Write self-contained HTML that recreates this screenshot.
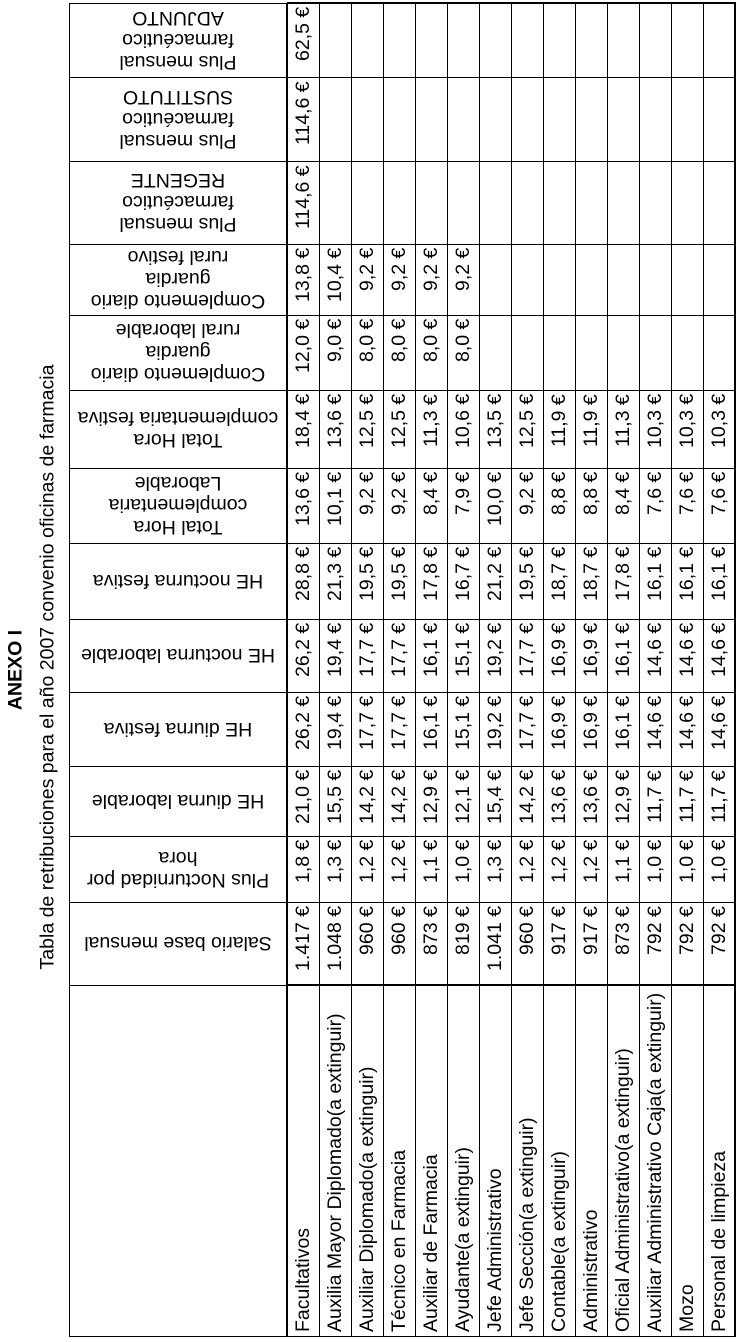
<!DOCTYPE html>
<html><head><meta charset="utf-8">
<style>
body{margin:0;background:#fff;}
#p{position:relative;width:746px;height:1342px;overflow:hidden;font-family:"Liberation Sans",sans-serif;font-size:19.5px;color:#000;}
.l{position:absolute;background:#000;}
.r{position:absolute;top:0;width:32px;height:1342px;}
.r span{position:absolute;left:0;width:32px;line-height:32px;writing-mode:vertical-rl;transform:rotate(180deg);text-align:end;box-sizing:border-box;white-space:nowrap;}
.r span.lb{text-align:start;padding-top:4px;}
.r span:not(.lb){padding-bottom:4px;}
.c0{top:985px;height:351px}
.c1{top:902px;height:83px}
.c2{top:836px;height:66px}
.c3{top:766px;height:70px}
.c4{top:692px;height:74px}
.c5{top:619px;height:73px}
.c6{top:543px;height:76px}
.c7{top:468px;height:75px}
.c8{top:390px;height:78px}
.c9{top:315px;height:75px}
.c10{top:244px;height:71px}
.c11{top:161px;height:83px}
.c12{top:77px;height:84px}
.c13{top:3px;height:74px}
.h{position:absolute;left:69px;width:218px;display:flex;align-items:center;justify-content:center;text-align:center;transform:rotate(180deg);line-height:22px;}
.t{position:absolute;white-space:nowrap;transform:translate(-50%,-50%) rotate(-90deg);}
</style></head><body><div id="p">
<div class="t" style="left:16px;top:670px;font-weight:bold;font-size:19.5px;">ANEXO I</div>
<div class="t" style="left:48px;top:667px;font-size:19.5px;">Tabla de retribuciones para el año 2007 convenio oficinas de farmacia</div>

<div class="h c1">Salario base mensual</div>
<div class="h c2">Plus Nocturnidad por<br>hora</div>
<div class="h c3">HE diurna laborable</div>
<div class="h c4">HE diurna festiva</div>
<div class="h c5">HE nocturna laborable</div>
<div class="h c6">HE nocturna festiva</div>
<div class="h c7">Total Hora<br>complementaria<br>Laborable</div>
<div class="h c8">Total Hora<br>complementaria festiva</div>
<div class="h c9">Complemento diario<br>guardia<br>rural laborable</div>
<div class="h c10">Complemento diario<br>guardia<br>rural festivo</div>
<div class="h c11">Plus mensual<br>farmacéutico<br>REGENTE</div>
<div class="h c12">Plus mensual<br>farmacéutico<br>SUSTITUTO</div>
<div class="h c13">Plus mensual<br>farmacéutico<br>ADJUNTO</div>

<div class="r" style="left:287px"><span class="lb c0">Facultativos</span><span class="c1">1.417 €</span><span class="c2">1,8 €</span><span class="c3">21,0 €</span><span class="c4">26,2 €</span><span class="c5">26,2 €</span><span class="c6">28,8 €</span><span class="c7">13,6 €</span><span class="c8">18,4 €</span><span class="c9">12,0 €</span><span class="c10">13,8 €</span><span class="c11">114,6 €</span><span class="c12">114,6 €</span><span class="c13">62,5 €</span></div>
<div class="r" style="left:319px"><span class="lb c0">Auxilia Mayor Diplomado(a extinguir)</span><span class="c1">1.048 €</span><span class="c2">1,3 €</span><span class="c3">15,5 €</span><span class="c4">19,4 €</span><span class="c5">19,4 €</span><span class="c6">21,3 €</span><span class="c7">10,1 €</span><span class="c8">13,6 €</span><span class="c9">9,0 €</span><span class="c10">10,4 €</span></div>
<div class="r" style="left:351px"><span class="lb c0">Auxiliar Diplomado(a extinguir)</span><span class="c1">960 €</span><span class="c2">1,2 €</span><span class="c3">14,2 €</span><span class="c4">17,7 €</span><span class="c5">17,7 €</span><span class="c6">19,5 €</span><span class="c7">9,2 €</span><span class="c8">12,5 €</span><span class="c9">8,0 €</span><span class="c10">9,2 €</span></div>
<div class="r" style="left:383px"><span class="lb c0">Técnico en Farmacia</span><span class="c1">960 €</span><span class="c2">1,2 €</span><span class="c3">14,2 €</span><span class="c4">17,7 €</span><span class="c5">17,7 €</span><span class="c6">19,5 €</span><span class="c7">9,2 €</span><span class="c8">12,5 €</span><span class="c9">8,0 €</span><span class="c10">9,2 €</span></div>
<div class="r" style="left:415px"><span class="lb c0">Auxiliar de Farmacia</span><span class="c1">873 €</span><span class="c2">1,1 €</span><span class="c3">12,9 €</span><span class="c4">16,1 €</span><span class="c5">16,1 €</span><span class="c6">17,8 €</span><span class="c7">8,4 €</span><span class="c8">11,3 €</span><span class="c9">8,0 €</span><span class="c10">9,2 €</span></div>
<div class="r" style="left:447px"><span class="lb c0">Ayudante(a extinguir)</span><span class="c1">819 €</span><span class="c2">1,0 €</span><span class="c3">12,1 €</span><span class="c4">15,1 €</span><span class="c5">15,1 €</span><span class="c6">16,7 €</span><span class="c7">7,9 €</span><span class="c8">10,6 €</span><span class="c9">8,0 €</span><span class="c10">9,2 €</span></div>
<div class="r" style="left:479px"><span class="lb c0">Jefe Administrativo</span><span class="c1">1.041 €</span><span class="c2">1,3 €</span><span class="c3">15,4 €</span><span class="c4">19,2 €</span><span class="c5">19,2 €</span><span class="c6">21,2 €</span><span class="c7">10,0 €</span><span class="c8">13,5 €</span></div>
<div class="r" style="left:511px"><span class="lb c0">Jefe Sección(a extinguir)</span><span class="c1">960 €</span><span class="c2">1,2 €</span><span class="c3">14,2 €</span><span class="c4">17,7 €</span><span class="c5">17,7 €</span><span class="c6">19,5 €</span><span class="c7">9,2 €</span><span class="c8">12,5 €</span></div>
<div class="r" style="left:543px"><span class="lb c0">Contable(a extinguir)</span><span class="c1">917 €</span><span class="c2">1,2 €</span><span class="c3">13,6 €</span><span class="c4">16,9 €</span><span class="c5">16,9 €</span><span class="c6">18,7 €</span><span class="c7">8,8 €</span><span class="c8">11,9 €</span></div>
<div class="r" style="left:575px"><span class="lb c0">Administrativo</span><span class="c1">917 €</span><span class="c2">1,2 €</span><span class="c3">13,6 €</span><span class="c4">16,9 €</span><span class="c5">16,9 €</span><span class="c6">18,7 €</span><span class="c7">8,8 €</span><span class="c8">11,9 €</span></div>
<div class="r" style="left:607px"><span class="lb c0">Oficial Administrativo(a extinguir)</span><span class="c1">873 €</span><span class="c2">1,1 €</span><span class="c3">12,9 €</span><span class="c4">16,1 €</span><span class="c5">16,1 €</span><span class="c6">17,8 €</span><span class="c7">8,4 €</span><span class="c8">11,3 €</span></div>
<div class="r" style="left:639px"><span class="lb c0">Auxiliar Administrativo Caja(a extinguir)</span><span class="c1">792 €</span><span class="c2">1,0 €</span><span class="c3">11,7 €</span><span class="c4">14,6 €</span><span class="c5">14,6 €</span><span class="c6">16,1 €</span><span class="c7">7,6 €</span><span class="c8">10,3 €</span></div>
<div class="r" style="left:671px"><span class="lb c0">Mozo</span><span class="c1">792 €</span><span class="c2">1,0 €</span><span class="c3">11,7 €</span><span class="c4">14,6 €</span><span class="c5">14,6 €</span><span class="c6">16,1 €</span><span class="c7">7,6 €</span><span class="c8">10,3 €</span></div>
<div class="r" style="left:703px"><span class="lb c0">Personal de limpieza</span><span class="c1">792 €</span><span class="c2">1,0 €</span><span class="c3">11,7 €</span><span class="c4">14,6 €</span><span class="c5">14,6 €</span><span class="c6">16,1 €</span><span class="c7">7,6 €</span><span class="c8">10,3 €</span></div>

<div class="l" style="left:69px;top:3px;width:1px;height:1334px"></div>
<div class="l" style="left:286px;top:3px;width:2px;height:1334px"></div>
<div class="l" style="left:319px;top:3px;width:1px;height:1334px"></div>
<div class="l" style="left:351px;top:3px;width:1px;height:1334px"></div>
<div class="l" style="left:383px;top:3px;width:1px;height:1334px"></div>
<div class="l" style="left:415px;top:3px;width:1px;height:1334px"></div>
<div class="l" style="left:447px;top:3px;width:1px;height:1334px"></div>
<div class="l" style="left:479px;top:3px;width:1px;height:1334px"></div>
<div class="l" style="left:511px;top:3px;width:1px;height:1334px"></div>
<div class="l" style="left:543px;top:3px;width:1px;height:1334px"></div>
<div class="l" style="left:575px;top:3px;width:1px;height:1334px"></div>
<div class="l" style="left:607px;top:3px;width:1px;height:1334px"></div>
<div class="l" style="left:639px;top:3px;width:1px;height:1334px"></div>
<div class="l" style="left:671px;top:3px;width:1px;height:1334px"></div>
<div class="l" style="left:703px;top:3px;width:1px;height:1334px"></div>
<div class="l" style="left:734px;top:3px;width:2px;height:1334px"></div>
<div class="l" style="left:69px;top:3px;width:218px;height:1px"></div>
<div class="l" style="left:287px;top:2px;width:449px;height:2px"></div>
<div class="l" style="left:69px;top:77px;width:667px;height:1px"></div>
<div class="l" style="left:69px;top:161px;width:667px;height:1px"></div>
<div class="l" style="left:69px;top:244px;width:667px;height:1px"></div>
<div class="l" style="left:69px;top:315px;width:667px;height:1px"></div>
<div class="l" style="left:69px;top:390px;width:667px;height:1px"></div>
<div class="l" style="left:69px;top:468px;width:667px;height:1px"></div>
<div class="l" style="left:69px;top:543px;width:667px;height:1px"></div>
<div class="l" style="left:69px;top:619px;width:667px;height:1px"></div>
<div class="l" style="left:69px;top:692px;width:667px;height:1px"></div>
<div class="l" style="left:69px;top:766px;width:667px;height:1px"></div>
<div class="l" style="left:69px;top:836px;width:667px;height:1px"></div>
<div class="l" style="left:69px;top:902px;width:667px;height:1px"></div>
<div class="l" style="left:69px;top:985px;width:218px;height:1px"></div>
<div class="l" style="left:287px;top:984px;width:449px;height:2px"></div>
<div class="l" style="left:69px;top:1336px;width:667px;height:1px"></div>
</div></body></html>
